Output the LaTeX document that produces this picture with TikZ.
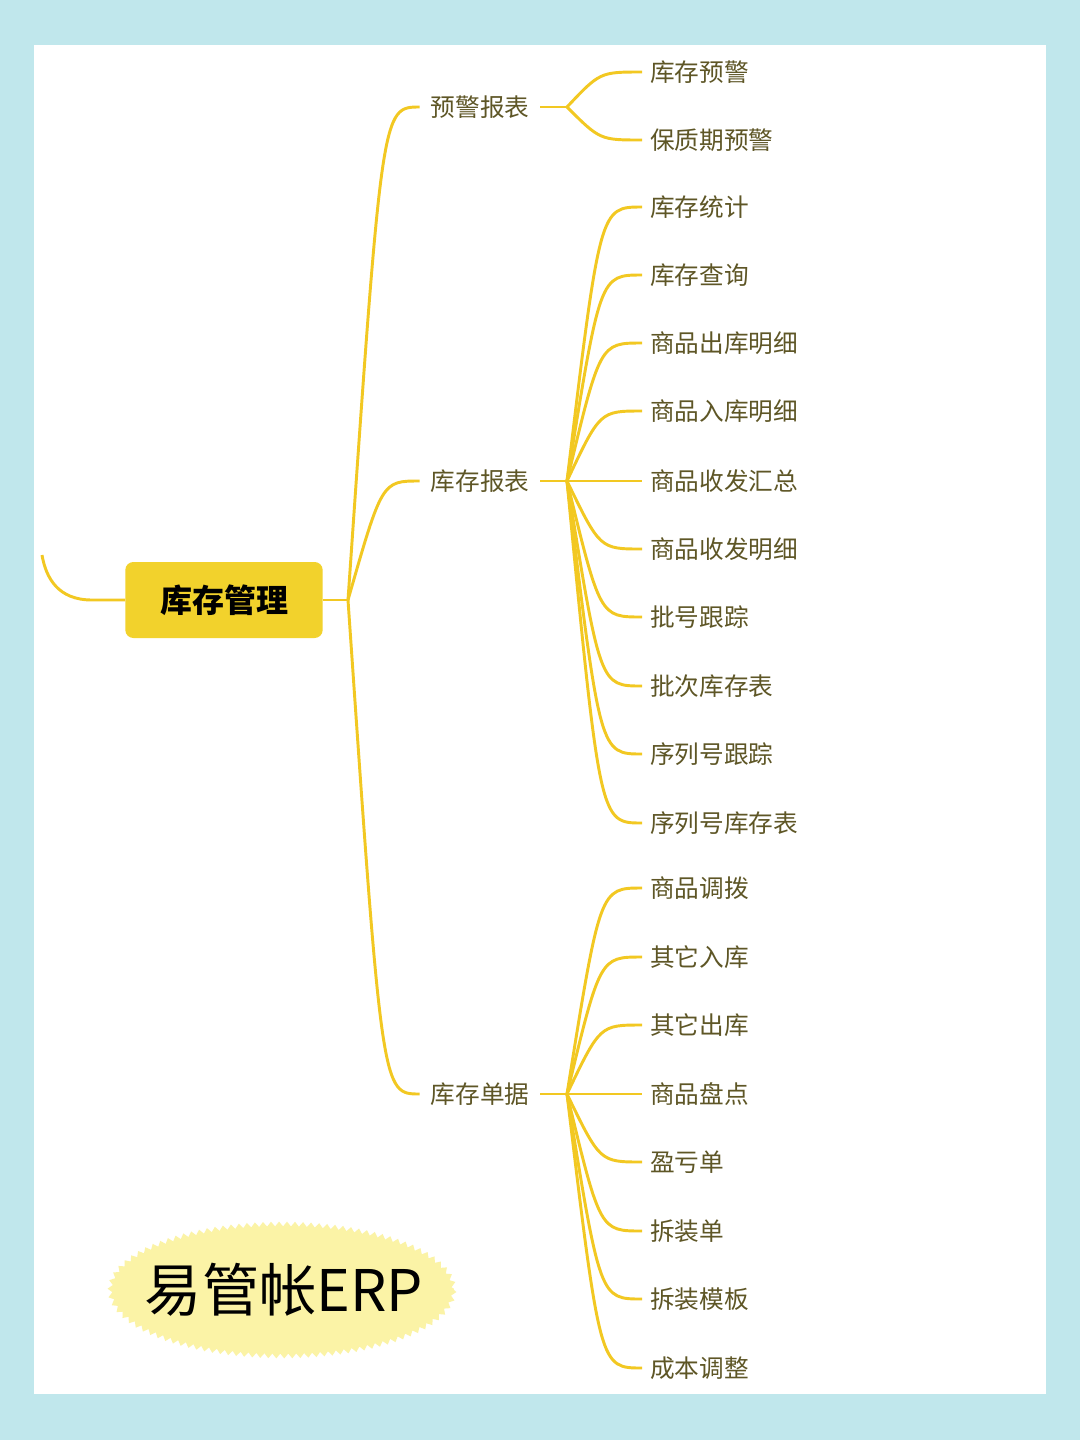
\documentclass[tikz,border=0pt]{standalone}
\usepackage{fontspec}
\setmainfont{Noto Sans CJK SC}
\usetikzlibrary{decorations.pathmorphing}

\definecolor{bgblue}{HTML}{C0E7EC}
\definecolor{branchline}{HTML}{F2C822}
\definecolor{rootfill}{HTML}{F2D22C}
\definecolor{labeltext}{HTML}{5E5626}
\definecolor{badgefill}{HTML}{FBF3A6}

\tikzset{
  branch/.style={draw=branchline, line width=2.2pt},
  rootbox/.style={fill=rootfill, rounded corners=6pt, minimum width=148pt, minimum height=57pt,
    font=\fontsize{24}{24}\selectfont\bfseries, text=black},
  subtopic/.style={text=labeltext, inner xsep=8pt, inner ysep=0pt, font=\fontsize{18.5}{18.5}\selectfont},
  leaf/.style={anchor=west, text=labeltext, inner xsep=6pt, inner ysep=0pt, font=\fontsize{18.5}{18.5}\selectfont},
  badge/.style={fill=badgefill, decorate, decoration={zigzag, segment length=6pt, amplitude=1.8pt}},
  badgetext/.style={inner sep=0pt, font=\fontsize{43}{43}\selectfont, text=black}
}

\begin{document}
\begin{tikzpicture}[x=0.75pt, y=-0.75pt]
  % frame
  \fill[bgblue] (0,0) rectangle (1080,1440);
  \fill[white] (34,45) rectangle (1046,1394);

  % root and its incoming line
  \node[rootbox] (root) at (224,600) {库存管理};
  \coordinate (offpage) at (42,555);
  \draw[branch] (root.west) -- (92,600) .. controls (58,600) and (46,578) .. (offpage);

  % main branches
  \coordinate (trunk) at (348,600);
  \draw[branch] (root.east) -- (trunk);
  \node[subtopic] (warn) at (480,107) {预警报表};
  \node[subtopic] (report) at (480,481) {库存报表};
  \node[subtopic] (bills) at (480,1094) {库存单据};
  \foreach \sub/\y in {warn/107, report/481, bills/1094} {
    \draw[branch] (trunk) .. controls (382,\y) .. (\sub.west);
    \coordinate (\sub-hub) at (567,\y);
    \draw[branch] (\sub.east) -- (\sub-hub);
  }

  % 预警报表
  \foreach \i/\y/\txt in {1/72/库存预警, 2/140/保质期预警} {
    \node[leaf] (warn-\i) at (642,\y) {\txt};
    \draw[branch] (warn-hub) .. controls (600,\y) .. (warn-\i.west);
  }

  % 库存报表
  \foreach \i/\y/\txt in {1/207/库存统计, 2/275/库存查询, 3/343/商品出库明细, 4/411/商品入库明细,
      5/481/商品收发汇总, 6/549/商品收发明细, 7/617/批号跟踪, 8/686/批次库存表,
      9/754/序列号跟踪, 10/823/序列号库存表} {
    \node[leaf] (report-\i) at (642,\y) {\txt};
    \draw[branch] (report-hub) .. controls (600,\y) .. (report-\i.west);
  }

  % 库存单据
  \foreach \i/\y/\txt in {1/888/商品调拨, 2/957/其它入库, 3/1025/其它出库, 4/1094/商品盘点,
      5/1162/盈亏单, 6/1231/拆装单, 7/1299/拆装模板, 8/1368/成本调整} {
    \node[leaf] (bills-\i) at (642,\y) {\txt};
    \draw[branch] (bills-hub) .. controls (600,\y) .. (bills-\i.west);
  }

  % logo
  \path[badge] (282,1290) ellipse (172 and 66);
  \node[badgetext] (logo) at (284,1290) {易管帐ERP};
\end{tikzpicture}
\end{document}
